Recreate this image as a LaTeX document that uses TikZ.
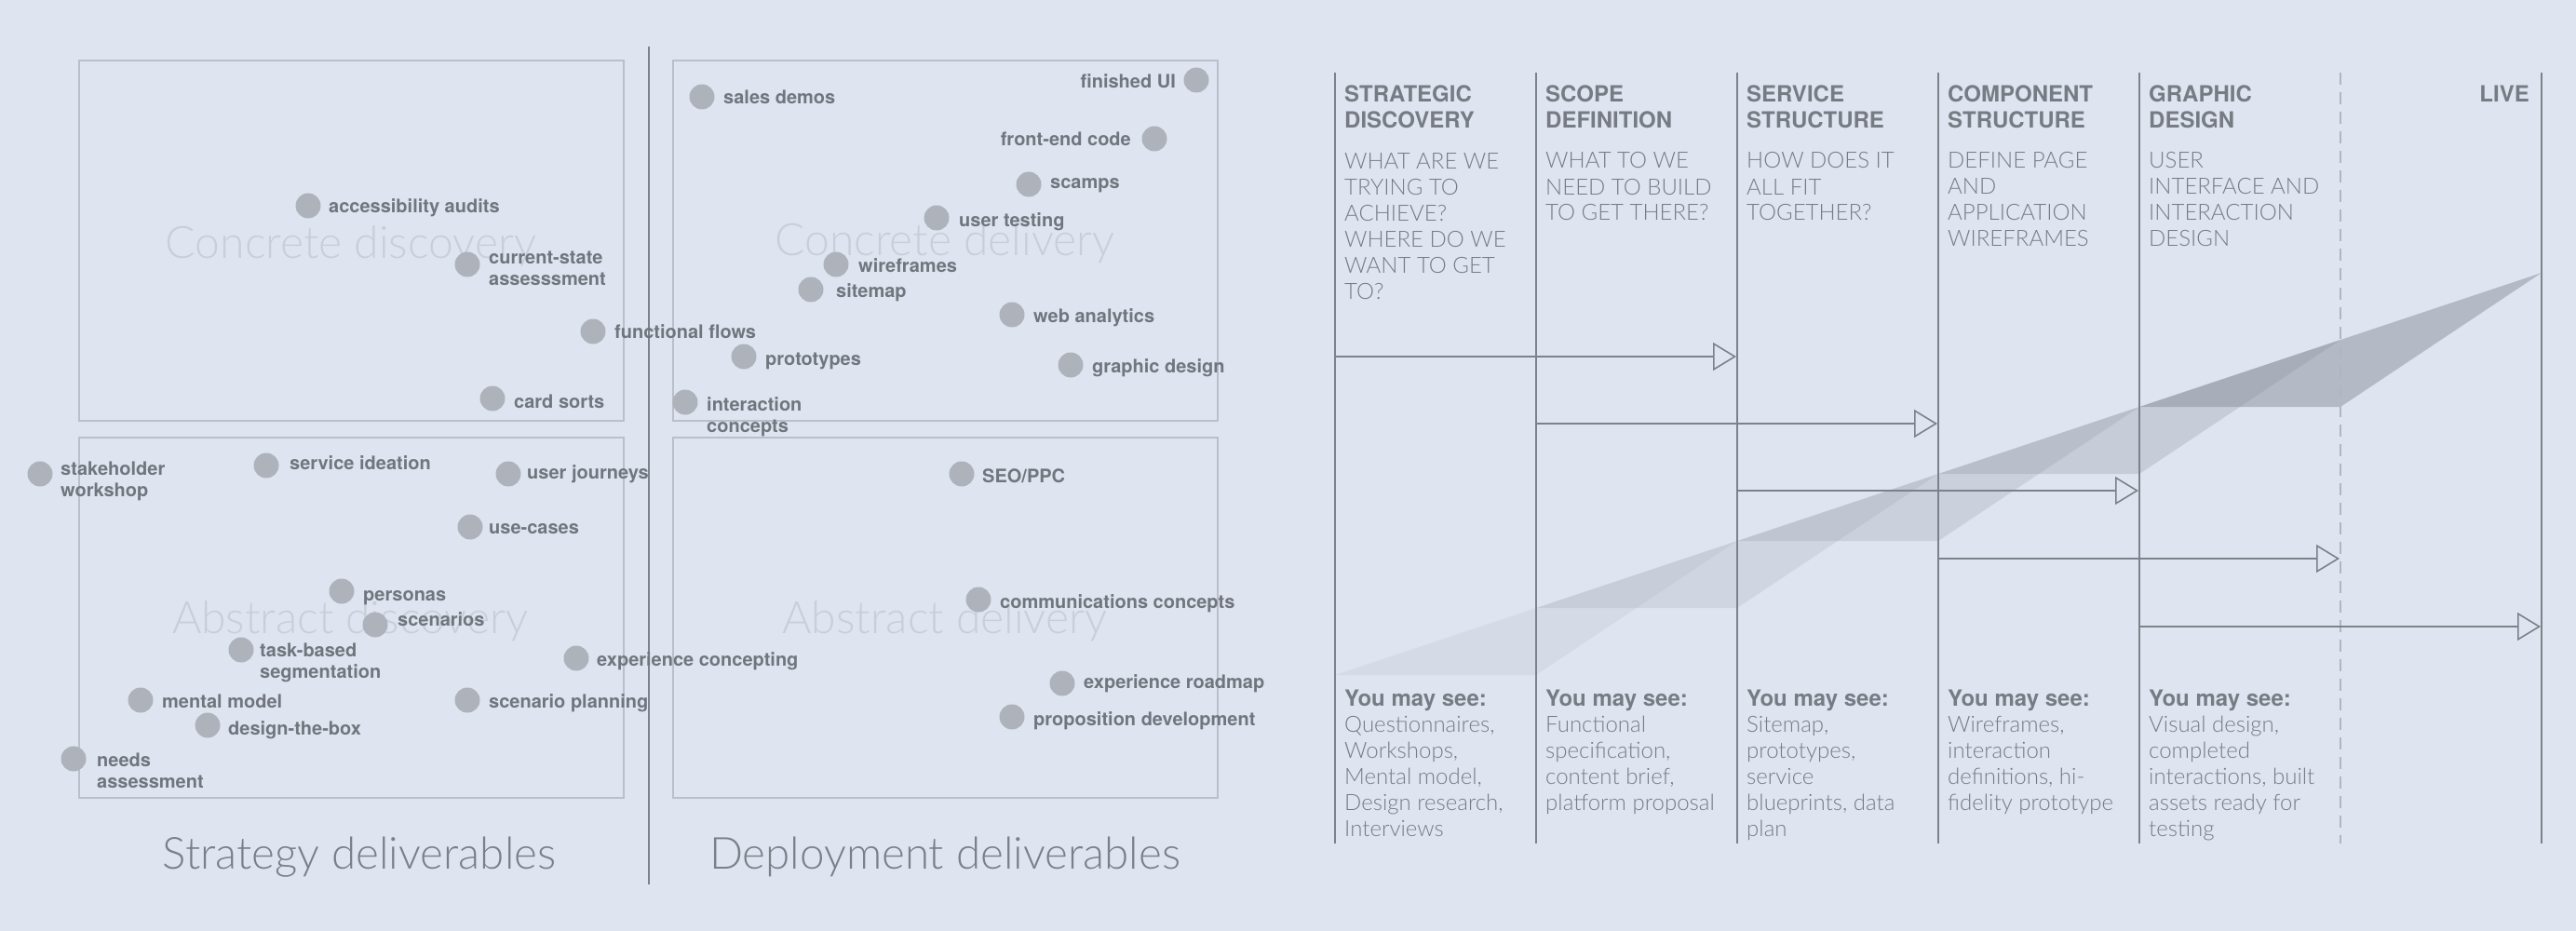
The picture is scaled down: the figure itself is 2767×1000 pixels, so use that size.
\documentclass[tikz,border=0pt]{standalone}
\usepackage{fontspec}
\setmainfont{TeX Gyre Heros}
\newfontfamily\thinf{Lato Light}
\usetikzlibrary{arrows.meta}
\definecolor{bgc}{HTML}{DFE5F0}
\definecolor{boxline}{HTML}{BABFCA}
\definecolor{dotc}{HTML}{AEB2BB}
\definecolor{lbltext}{HTML}{71757E}
\definecolor{wmark}{HTML}{C9CED8}
\definecolor{titlec}{HTML}{7B7F88}
\definecolor{colline}{HTML}{7D8189}
\definecolor{headtext}{HTML}{777B84}
\definecolor{qtext}{HTML}{777B84}
\definecolor{dashc}{HTML}{B0B5BF}
\definecolor{bandc}{HTML}{8A909C}
\tikzset{
  dotnode/.style={circle, fill=dotc, minimum size=27pt, inner sep=0pt},
  lbl/.style={anchor=base west, inner sep=0pt, text=lbltext, align=left, font=\bfseries\fontsize{20}{23}\selectfont},
  lblr/.style={lbl, anchor=base east, align=right},
  wm/.style={anchor=base, inner sep=0pt, text=wmark, font=\thinf\fontsize{48}{48}\selectfont},
  ttl/.style={anchor=base, inner sep=0pt, text=titlec, font=\thinf\fontsize{47.5}{48}\selectfont},
  hd/.style={anchor=base west, inner sep=0pt, align=left, text=headtext, font=\bfseries\fontsize{24}{28}\selectfont},
  qs/.style={anchor=base west, inner sep=0pt, align=left, text=qtext, font=\thinf\fontsize{24}{28}\selectfont},
  quad/.style={draw=boxline, line width=1.3pt},
  colln/.style={draw=colline, line width=1.6pt},
  dashln/.style={draw=dashc, line width=1.5pt, dash pattern=on 13pt off 8pt},
  flow/.style={draw=colline, line width=1.6pt, -{Triangle[open, length=25pt, width=30pt]}},
  band/.style={fill=bandc, draw=none}
}
\begin{document}
\begin{tikzpicture}[x=1pt, y=-1pt]
\fill[bgc] (0,0) rectangle (2767,1000);
\useasboundingbox (0,0) rectangle (2767,1000);

% ---------- left panel: quadrants ----------
\draw[quad] (85,65) rectangle (670,452);
\draw[quad] (85,470) rectangle (670,857);
\draw[quad] (723,65) rectangle (1308,452);
\draw[quad] (723,470) rectangle (1308,857);
\coordinate (divt) at (697,50);
\coordinate (divb) at (697,950);
\draw[colln, line width=1.4pt] (divt) -- (divb);

\node[wm] (wm1) at (377,277) {Concrete discovery};
\node[wm] (wm2) at (376,680) {Abstract discovery};
\node[wm] (wm3) at (1015,275) {Concrete delivery};
\node[wm] (wm4) at (1015,680) {Abstract delivery};
\node[ttl] (t1) at (386,933) {Strategy deliverables};
\node[ttl] (t2) at (1015,933) {Deployment deliverables};

% concrete discovery
\node[dotnode] (d1) at (331,221) {};  \node[lbl] (l1) at (353,229) {accessibility audits};
\node[dotnode] (d2) at (502,284) {};  \node[lbl] (l2) at (525,306) {current-state\\assesssment};
\node[dotnode] (d3) at (637,356) {};  \node[lbl] (l3) at (660,363) {functional flows};
\node[dotnode] (d4) at (529,428) {};  \node[lbl] (l4) at (552,438) {card sorts};
% abstract discovery
\node[dotnode] (d5) at (43,509) {};   \node[lbl] (l5) at (65,533) {stakeholder\\workshop};
\node[dotnode] (d6) at (286,500) {};  \node[lbl] (l6) at (311,504) {service ideation};
\node[dotnode] (d7) at (546,509) {};  \node[lbl] (l7) at (566,514) {user journeys};
\node[dotnode] (d8) at (505,566) {};  \node[lbl] (l8) at (525,573) {use-cases};
\node[dotnode] (d9) at (367,635) {};  \node[lbl] (l9) at (390,645) {personas};
\node[dotnode] (d10) at (403,671) {}; \node[lbl] (l10) at (427,672) {scenarios};
\node[dotnode] (d11) at (259,698) {}; \node[lbl] (l11) at (279,728) {task-based\\segmentation};
\node[dotnode] (d12) at (619,707) {}; \node[lbl] (l12) at (641,715) {experience concepting};
\node[dotnode] (d13) at (151,752) {}; \node[lbl] (l13) at (174,760) {mental model};
\node[dotnode] (d14) at (502,752) {}; \node[lbl] (l14) at (525,760) {scenario planning};
\node[dotnode] (d15) at (223,779) {}; \node[lbl] (l15) at (245,789) {design-the-box};
\node[dotnode] (d16) at (79,815) {};  \node[lbl] (l16) at (104,846) {needs\\assessment};
% concrete delivery
\node[dotnode] (d17) at (754,104) {}; \node[lbl] (l17) at (777,112) {sales demos};
\node[dotnode] (d18) at (1285,86) {}; \node[lblr] (l18) at (1263,95) {finished UI};
\node[dotnode] (d19) at (1240,149) {};\node[lblr] (l19) at (1215,157) {front-end code};
\node[dotnode] (d20) at (1105,198) {};\node[lbl] (l20) at (1128,203) {scamps};
\node[dotnode] (d21) at (1006,234) {};\node[lbl] (l21) at (1030,244) {user testing};
\node[dotnode] (d22) at (898,284) {}; \node[lbl] (l22) at (922,292) {wireframes};
\node[dotnode] (d23) at (871,311) {}; \node[lbl] (l23) at (898,319) {sitemap};
\node[dotnode] (d24) at (1087,338) {};\node[lbl] (l24) at (1110,346) {web analytics};
\node[dotnode] (d25) at (799,383) {}; \node[lbl] (l25) at (822,392) {prototypes};
\node[dotnode] (d26) at (1150,392) {};\node[lbl] (l26) at (1173,400) {graphic design};
\node[dotnode] (d27) at (736,432) {}; \node[lbl] (l27) at (759,464) {interaction\\concepts};
% abstract delivery
\node[dotnode] (d28) at (1033,509) {};\node[lbl] (l28) at (1055,518) {SEO/PPC};
\node[dotnode] (d29) at (1051,644) {};\node[lbl] (l29) at (1074,653) {communications concepts};
\node[dotnode] (d30) at (1141,734) {};\node[lbl] (l30) at (1164,739) {experience roadmap};
\node[dotnode] (d31) at (1087,770) {};\node[lbl] (l31) at (1110,779) {proposition development};

% ---------- right panel ----------
% bands
\fill[band, fill opacity=0.11] (1434,725) -- (1650,725) -- (1866,581) -- cycle;
\fill[band, fill opacity=0.17] (1650,653) -- (1866,653) -- (2082,509) -- cycle;
\fill[band, fill opacity=0.23] (1866,581) -- (2082,581) -- (2298,437) -- cycle;
\fill[band, fill opacity=0.28] (2082,509) -- (2298,509) -- (2514,365) -- cycle;
\fill[band, fill opacity=0.50] (2298,437) -- (2514,437) -- (2730,293) -- cycle;

% column lines
\coordinate (c1t) at (1434,78); \coordinate (c1b) at (1434,906);
\coordinate (c2t) at (1650,78); \coordinate (c2b) at (1650,906);
\coordinate (c3t) at (1866,78); \coordinate (c3b) at (1866,906);
\coordinate (c4t) at (2082,78); \coordinate (c4b) at (2082,906);
\coordinate (c5t) at (2298,78); \coordinate (c5b) at (2298,906);
\coordinate (c6t) at (2514,78); \coordinate (c6b) at (2514,906);
\coordinate (c7t) at (2730,78); \coordinate (c7b) at (2730,906);
\draw[colln] (c1t) -- (c1b);
\draw[colln] (c2t) -- (c2b);
\draw[colln] (c3t) -- (c3b);
\draw[colln] (c4t) -- (c4b);
\draw[colln] (c5t) -- (c5b);
\draw[dashln] (c6t) -- (c6b);
\draw[colln] (c7t) -- (c7b);

% arrows
\coordinate (a1s) at (1434,383); \coordinate (a1e) at (1865,383);
\coordinate (a2s) at (1650,455); \coordinate (a2e) at (2081,455);
\coordinate (a3s) at (1866,527); \coordinate (a3e) at (2297,527);
\coordinate (a4s) at (2082,600); \coordinate (a4e) at (2513,600);
\coordinate (a5s) at (2298,673); \coordinate (a5e) at (2729,673);
\draw[flow] (a1s) -- (a1e);
\draw[flow] (a2s) -- (a2e);
\draw[flow] (a3s) -- (a3e);
\draw[flow] (a4s) -- (a4e);
\draw[flow] (a5s) -- (a5e);

% headings (base anchor = baseline of the last line)
\node[hd] (h1) at (1444,138) {STRATEGIC\\DISCOVERY};
\node[hd] (h2) at (1660,138) {SCOPE\\DEFINITION};
\node[hd] (h3) at (1876,138) {SERVICE\\STRUCTURE};
\node[hd] (h4) at (2092,138) {COMPONENT\\STRUCTURE};
\node[hd] (h5) at (2308,138) {GRAPHIC\\DESIGN};
\node[hd, anchor=base east] (h6) at (2717,110) {LIVE};

\node[qs] (q1) at (1444,321) {WHAT ARE WE\\TRYING TO\\ACHIEVE?\\WHERE DO WE\\WANT TO GET\\TO?};
\node[qs] (q2) at (1660,237) {WHAT TO WE\\NEED TO BUILD\\TO GET THERE?};
\node[qs] (q3) at (1876,237) {HOW DOES IT\\ALL FIT\\TOGETHER?};
\node[qs] (q4) at (2092,265) {DEFINE PAGE\\AND\\APPLICATION\\WIREFRAMES};
\node[qs] (q5) at (2308,265) {USER\\INTERFACE AND\\INTERACTION\\DESIGN};

% you may see
\node[qs] (y1) at (1444,898) {{\rmfamily\bfseries You may see:}\\Questionnaires,\\Workshops,\\Mental model,\\Design research,\\Interviews};
\node[qs] (y2) at (1660,870) {{\rmfamily\bfseries You may see:}\\Functional\\specification,\\content brief,\\platform proposal};
\node[qs] (y3) at (1876,898) {{\rmfamily\bfseries You may see:}\\Sitemap,\\prototypes,\\service\\blueprints, data\\plan};
\node[qs] (y4) at (2092,870) {{\rmfamily\bfseries You may see:}\\Wireframes,\\interaction\\definitions, hi-\\fidelity prototype};
\node[qs] (y5) at (2308,898) {{\rmfamily\bfseries You may see:}\\Visual design,\\completed\\interactions, built\\assets ready for\\testing};
\end{tikzpicture}
\end{document}
